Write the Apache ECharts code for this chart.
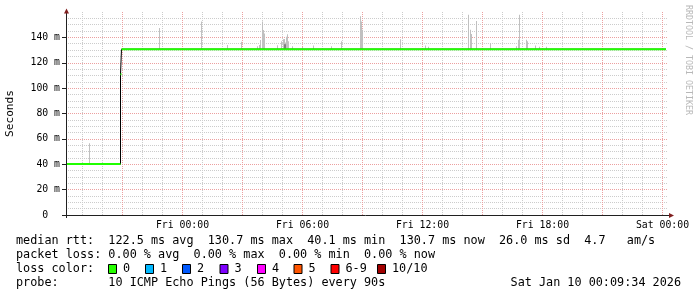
<!DOCTYPE html>
<html><head><meta charset="utf-8">
<script src="https://cdn.jsdelivr.net/npm/echarts@6/dist/echarts.min.js"></script>
<style>html,body{margin:0;padding:0;background:#fff}#c{width:697px;height:297px}</style>
</head><body><div id="c"></div>
<script>
// ---- data (x in hours relative to Fri 00:00, y in ms) ----
const medianHours  = [-5.825, -3.1, -3.05, 24.175];
const medianValues = [40.1, 110.9, 130.7, 130.7];

const smokeHours = [-4.65, -1.15, 0.95, 2.25, 2.95, 3.75, 3.85, 3.9, 4.0, 4.05, 4.1,
  4.75, 4.95, 5.05, 5.1, 5.15, 5.2, 5.25, 5.3, 5.5, 6.0, 6.55, 7.45, 7.95,
  8.9, 8.95, 9.0, 10.9, 12.15, 12.3, 14.3, 14.4, 14.45, 14.7, 15.4,
  16.7, 16.8, 16.85, 17.2, 17.25, 17.65, 17.85, 18.2];
const smokeTops = [56.5, 147.4, 152.5, 134, 136.5, 133, 134, 138, 152.5, 145.8, 143,
  133.7, 136.9, 138.5, 138.7, 136, 140.5, 142.5, 137, 133, 132.5, 133.5, 133, 136.9,
  156.7, 152.5, 146, 138.6, 133.5, 132.7, 157.8, 146, 142.6, 153, 135.5,
  133, 138.2, 157.9, 138.2, 137, 133.5, 132.7, 132.7];
const smokeLows = [40.1, 130.7, 130.7, 130.7, 130.7, 130.7, 130.7, 130.7, 130.7, 130.7, 130.7,
  130.7, 130.7, 130.7, 130.7, 130.7, 130.7, 130.7, 130.7, 130.7, 130.7, 130.7, 130.7, 130.7,
  130.7, 130.7, 130.7, 130.7, 130.7, 130.7, 130.7, 130.7, 130.7, 130.7, 130.7,
  130.7, 130.7, 130.7, 130.7, 130.7, 130.7, 130.7, 130.7];
const denseHours = [5.1, 5.15];
const denseTops  = [134.5, 134.5];
const denseLows  = [130.7, 130.7];

const xTickHours  = [0, 6, 12, 18, 24];
const xTickLabels = ['Fri 00:00', 'Fri 06:00', 'Fri 12:00', 'Fri 18:00', 'Sat 00:00'];
const yTickValues = [0, 20, 40, 60, 80, 100, 120, 140];
const yTickLabels = ['0  ', '20 m', '40 m', '60 m', '80 m', '100 m', '120 m', '140 m'];

const rttStats  = [122.5, 130.7, 40.1, 130.7, 26.0];
const amPerSec  = 4.7;
const lossStats = [0, 0, 0, 0];
const lossLabels = ['0', '1', '2', '3', '4', '5', '6-9', '10/10'];
const lossColors = ['#26ff00', '#00b8ff', '#0059ff', '#7e00ff', '#ff00ff', '#ff5500', '#ff0000', '#a10000'];
const probeText = '10 ICMP Echo Pings (56 Bytes) every 90s';
const stampText = 'Sat Jan 10 00:09:34 2026';

// ---- build ----
const MONO = '"DejaVu Sans Mono", monospace';
const GRID_MINOR = '#cccccc', GRID_MAJOR = '#eca0a0';
const Y_MAX = 160;
const PLOT_TOP = 12, PLOT_BOTTOM = 215;
const pxPerMs = (PLOT_BOTTOM - PLOT_TOP) / Y_MAX;
const yTickMax = yTickValues[yTickValues.length - 1];

const medianLine = medianHours.map((h, i) => [h, medianValues[i]]);
const greenSegs = [];
for (let i = 0; i < medianHours.length - 1; i++) {
  greenSegs.push([medianHours[i], medianValues[i]], [medianHours[i + 1], medianValues[i]], [null, null]);
}
const smokeData = smokeHours.map((h, i) => [h, smokeLows[i], smokeTops[i]]);
const denseData = denseHours.map((h, i) => [h, denseLows[i], denseTops[i]]);

function spike(color) {
  return function (params, api) {
    const x = api.value(0), lo = api.value(1), hi = api.value(2);
    const p0 = api.coord([x, lo]), p1 = api.coord([x, hi]);
    const w = api.size([0.05, 0])[0];
    return { type: 'rect', shape: { x: p1[0] - w / 2, y: p1[1], width: w, height: p0[1] - p1[1] },
             style: { fill: color } };
  };
}

const fmt = (v, d) => v.toFixed(d);
const line1 = 'median rtt:  ' + fmt(rttStats[0],1) + ' ms avg  ' + fmt(rttStats[1],1) + ' ms max  ' +
  fmt(rttStats[2],1) + ' ms min  ' + fmt(rttStats[3],1) + ' ms now  ' + fmt(rttStats[4],1) + ' ms sd  ' +
  fmt(amPerSec,1) + '   am/s';
const line2 = 'packet loss: ' + fmt(lossStats[0],2) + ' % avg  ' + fmt(lossStats[1],2) + ' % max  ' +
  fmt(lossStats[2],2) + ' % min  ' + fmt(lossStats[3],2) + ' % now';

const LEG_FONT = '11.8px ' + MONO;
const graphics = [
  { type: 'line', shape: { x1: 66.5, y1: 218, x2: 66.5, y2: 13 }, style: { stroke: '#202020', lineWidth: 1 }, z: 50 },
  { type: 'line', shape: { x1: 62, y1: 215.5, x2: 669, y2: 215.5 }, style: { stroke: '#202020', lineWidth: 1 }, z: 50 },
  { type: 'polygon', shape: { points: [[64, 13.5], [69, 13.5], [66.5, 8.5]] }, style: { fill: '#801f1f' }, z: 51 },
  { type: 'polygon', shape: { points: [[669, 213], [669, 218], [674, 215.5]] }, style: { fill: '#801f1f' }, z: 51 },
  { type: 'text', x: 10, y: 113.5, rotation: Math.PI / 2,
    style: { text: 'Seconds', font: '11.1px ' + MONO, fill: '#000', align: 'center', verticalAlign: 'middle' } },
  { type: 'text', x: 688, y: 60, rotation: -Math.PI / 2,
    style: { text: 'RRDTOOL / TOBI OETIKER', font: '8.3px ' + MONO, fill: '#b8b8b8', align: 'center', verticalAlign: 'middle' } },
  { type: 'text', x: 16, y: 241, style: { text: line1, font: LEG_FONT, fill: '#000', align: 'left', verticalAlign: 'middle' } },
  { type: 'text', x: 16, y: 255, style: { text: line2, font: LEG_FONT, fill: '#000', align: 'left', verticalAlign: 'middle' } },
  { type: 'text', x: 16, y: 269, style: { text: 'loss color:', font: LEG_FONT, fill: '#000', align: 'left', verticalAlign: 'middle' } },
  { type: 'text', x: 16, y: 283, style: { text: 'probe:       ' + probeText, font: LEG_FONT, fill: '#000', align: 'left', verticalAlign: 'middle' } },
  { type: 'text', x: 681, y: 283, style: { text: stampText, font: LEG_FONT, fill: '#000', align: 'right', verticalAlign: 'middle' } }
];
const boxX = [108, 145, 182, 219.5, 257, 293.5, 330.5, 377];
lossLabels.forEach((lab, i) => {
  graphics.push({ type: 'rect', shape: { x: boxX[i] + 0.5, y: 264.5, width: 8, height: 9 },
    style: { fill: lossColors[i], stroke: '#000', lineWidth: 1 } });
  graphics.push({ type: 'text', x: boxX[i] + 15, y: 269,
    style: { text: lab, font: LEG_FONT, fill: '#000', align: 'left', verticalAlign: 'middle' } });
});

const chart = echarts.init(document.getElementById('c'), null, { renderer: 'canvas' });
chart.setOption({
  animation: false,
  backgroundColor: '#ffffff',
  grid: [
    { left: 66, top: PLOT_TOP, width: 602, height: PLOT_BOTTOM - PLOT_TOP },
    { left: 62.5, top: PLOT_TOP, width: 605.5, height: PLOT_BOTTOM - PLOT_TOP },
    { left: 66, top: PLOT_BOTTOM - yTickMax * pxPerMs, width: 602, height: yTickMax * pxPerMs }
  ],
  xAxis: [
    { gridIndex: 0, type: 'value', min: -5.825, max: 24.275, show: false },
    { gridIndex: 1, type: 'value', position: 'bottom', min: -6, max: 24.275, interval: 1,
      axisLine: { show: false, onZero: false }, axisTick: { show: false },
      axisLabel: { show: true, showMinLabel: false, margin: 5, fontFamily: MONO, fontSize: 9.8, color: '#000',
        formatter: v => { const k = xTickHours.findIndex(h => Math.abs(h - v) < 1e-6); return k < 0 ? '' : xTickLabels[k]; } },
      splitLine: { show: true, showMinLine: false, showMaxLine: false,
        lineStyle: { color: [GRID_MINOR, GRID_MINOR, GRID_MAJOR], type: [1, 1], width: 1 } } },
    { gridIndex: 2, type: 'value', min: -5.825, max: 24.275, show: false }
  ],
  yAxis: [
    { gridIndex: 0, type: 'value', min: 0, max: Y_MAX, interval: 5, position: 'left',
      axisLine: { show: false, onZero: false }, axisTick: { show: false }, axisLabel: { show: false },
      splitLine: { show: true, showMinLine: false, showMaxLine: false,
        lineStyle: { color: [GRID_MINOR, GRID_MINOR, GRID_MINOR, GRID_MAJOR], type: [1, 1], width: 1 } } },
    { gridIndex: 1, type: 'value', min: 0, max: Y_MAX, show: false },
    { gridIndex: 2, type: 'value', min: 0, max: yTickMax, interval: 20, position: 'left',
      axisLine: { show: false, onZero: false }, splitLine: { show: false },
      axisTick: { show: true, length: 4, lineStyle: { color: '#202020' } },
      axisLabel: { show: true, margin: 6, fontFamily: MONO, fontSize: 9.8, color: '#000',
        formatter: v => { const k = yTickValues.indexOf(v); return k < 0 ? '' : yTickLabels[k]; } } }
  ],
  series: [
    { type: 'custom', xAxisIndex: 0, yAxisIndex: 0, z: 2, silent: true, renderItem: spike('#c0c0c0'),
      encode: { x: 0, y: [1, 2] }, data: smokeData },
    { type: 'custom', xAxisIndex: 0, yAxisIndex: 0, z: 2, silent: true, renderItem: spike('#808080'),
      encode: { x: 0, y: [1, 2] }, data: denseData },
    { type: 'line', xAxisIndex: 0, yAxisIndex: 0, z: 3, step: 'end', symbol: 'none', silent: true,
      lineStyle: { color: '#000', width: 1 }, data: medianLine },
    { type: 'line', xAxisIndex: 0, yAxisIndex: 0, z: 4, symbol: 'none', silent: true, connectNulls: false,
      lineStyle: { color: '#20ff00', width: 2, cap: 'butt' }, data: greenSegs }
  ],
  graphic: graphics
});
</script></body></html>
